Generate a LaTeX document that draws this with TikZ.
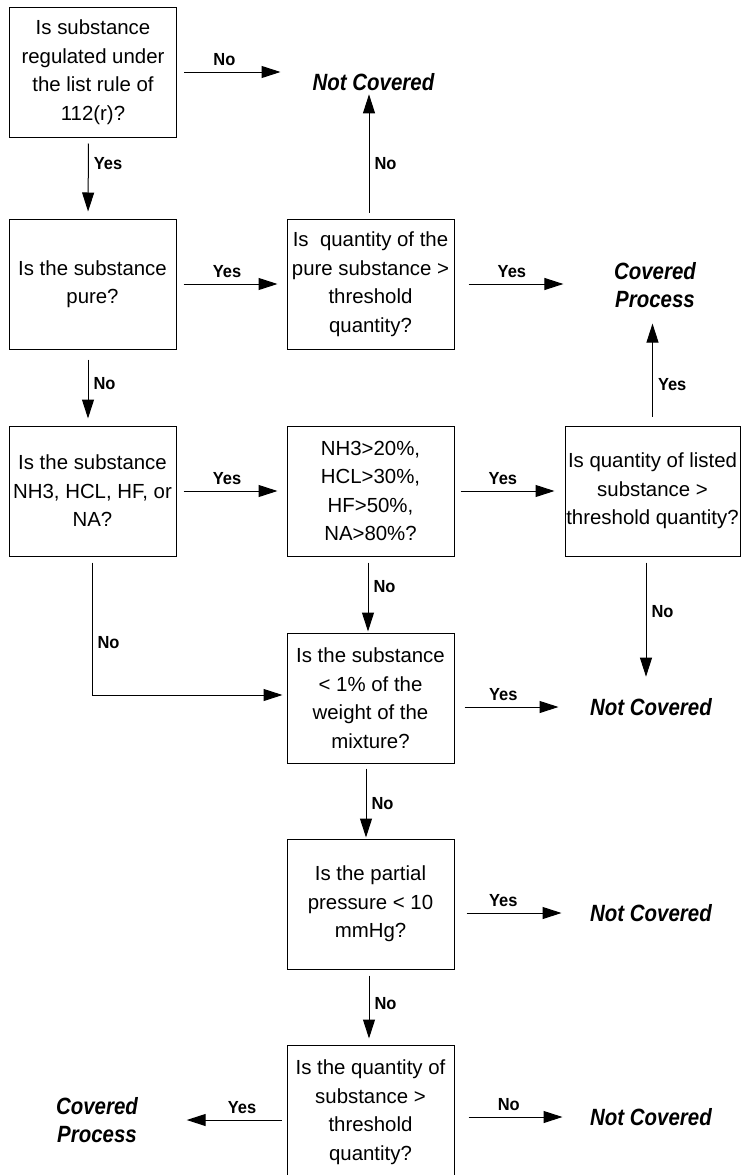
\documentclass[tikz,border=0pt]{standalone}
\usepackage{fontspec}
\setmainfont{Liberation Sans}
\newfontfamily\termfont[FakeStretch=0.87]{Liberation Sans}
\newfontfamily\lblfont[FakeStretch=0.94]{Liberation Sans}
\usetikzlibrary{arrows.meta}
\begin{document}
\begin{tikzpicture}[x=1pt,y=-1pt,
  box/.style={draw,line width=1pt,minimum width=167pt,minimum height=130pt,
    inner sep=0pt,align=center,font=\fontsize{20.4}{28.5}\selectfont},
  term/.style={inner sep=0pt,align=center,
    font=\termfont\fontsize{23.5}{27.5}\selectfont\bfseries\itshape},
  lbl/.style={inner sep=0pt,font=\lblfont\fontsize{17.5}{18}\selectfont\bfseries},
  arr/.style={line width=1pt,-{Triangle[length=19pt,width=12pt]}}]
\useasboundingbox (0,0) rectangle (741,1175);
\node[box] (q1) at (93,72) {Is substance\\regulated under\\the list rule of\\112(r)?};
\node[box] (q2) at (92.5,284) {Is the substance\\pure?};
\node[box] (q3) at (370.5,284) {Is~~quantity of the\\pure substance >\\threshold\\quantity?};
\node[box] (q4) at (92.5,491) {Is the substance\\NH3, HCL, HF, or\\NA?};
\node[box] (q5) at (370.5,491) {NH3>20\%,\\HCL>30\%,\\HF>50\%,\\NA>80\%?};
\node[box,minimum width=175pt] (q6) at (652.5,491) {Is quantity of listed\\substance >\\threshold quantity?};
\node[box] (q7) at (370.5,698) {Is the substance\\< 1\% of the\\weight of the\\mixture?};
\node[box] (q8) at (370.5,904) {Is the partial\\pressure < 10\\mmHg?};
\node[box,minimum height=134pt] (q9) at (370.5,1112) {Is the quantity of\\substance >\\threshold\\quantity?};
\node[term] (nc1) at (373.5,82) {Not Covered};
\node[term] (cp1) at (655,285) {Covered\\Process};
\node[term] (nc2) at (651,707) {Not Covered};
\node[term] (nc3) at (651,913) {Not Covered};
\node[term] (nc4) at (651,1117) {Not Covered};
\node[term] (cp2) at (97,1120) {Covered\\Process};
\draw[arr,shorten <=7pt,shorten >=32pt] (q1.east) -- (q1.east -| nc1.west)
  node[lbl,pos=.35,above=6pt] {No};
\draw[arr,shorten <=6pt,shorten >=7pt] ([xshift=-4.5pt]q1.south) -- ([xshift=-4.5pt]q2.north)
  node[lbl,pos=.32,right=5pt] {Yes};
\draw[arr,shorten <=6pt,shorten >=3.5pt] ([xshift=-1.5pt]q3.north) -- ([xshift=-1.5pt]q3.north |- nc1.south)
  node[lbl,pos=.43,right=5pt] {No};
\draw[arr,shorten <=7pt,shorten >=9pt] (q2.east) -- (q3.west)
  node[lbl,pos=.46,above=6pt] {Yes};
\draw[arr,shorten <=14pt,shorten >=50.5pt] (q3.east) -- (q3.east -| cp1.west)
  node[lbl,pos=.36,above=6pt] {Yes};
\draw[arr,shorten <=10pt,shorten >=7pt] ([xshift=-4.5pt]q2.south) -- ([xshift=-4.5pt]q4.north)
  node[lbl,pos=.45,right=5pt] {No};
\draw[arr,shorten <=7pt,shorten >=9pt] (q4.east) -- (q5.west)
  node[lbl,pos=.46,above=6pt] {Yes};
\draw[arr,shorten <=6pt,shorten >=10pt] (q5.east) -- (q6.west)
  node[lbl,pos=.44,above=6pt] {Yes};
\draw[arr,shorten <=9pt,shorten >=16pt] (q6.north) -- (q6.north |- cp1.south)
  node[lbl,pos=.35,right=5pt] {Yes};
\draw[arr,shorten <=6pt,shorten >=21.5pt] ([xshift=-6.5pt]q6.south) -- ([xshift=-6.5pt]q6.south |- nc2.north)
  node[lbl,pos=.39,right=5pt] {No};
\draw[arr,shorten <=6pt,shorten >=4pt] ([xshift=-0.5pt]q4.south) |- ([yshift=3pt]q7.west)
  node[lbl,pos=.31,right=5pt] {No};
\draw[arr,shorten <=6pt,shorten >=1pt] ([xshift=-2.5pt]q5.south) -- ([xshift=-2.5pt]q7.north)
  node[lbl,pos=.4,right=5pt] {No};
\draw[arr,shorten <=10pt,shorten >=31.5pt] (q7.east |- nc2.west) -- (nc2.west)
  node[lbl,pos=.36,above=6pt] {Yes};
\draw[arr,shorten <=5pt,shorten >=1pt] ([xshift=-4.5pt]q7.south) -- ([xshift=-4.5pt]q8.north)
  node[lbl,pos=.53,right=5pt] {No};
\draw[arr,shorten <=12pt,shorten >=28.5pt] (q8.east |- nc3.west) -- (nc3.west)
  node[lbl,pos=.36,above=6pt] {Yes};
\draw[arr,shorten <=6pt,shorten >=6pt] ([xshift=-1.5pt]q8.south) -- ([xshift=-1.5pt]q9.north)
  node[lbl,pos=.46,right=5pt] {No};
\draw[arr,shorten <=14pt,shorten >=27.5pt] (q9.east |- nc4.west) -- (nc4.west)
  node[lbl,pos=.4,above=6pt] {No};
\draw[arr,shorten <=5pt,shorten >=48.6pt] (q9.west |- cp2.east) -- (cp2.east)
  node[lbl,pos=.3,above=6pt] {Yes};
\end{tikzpicture}
\end{document}
